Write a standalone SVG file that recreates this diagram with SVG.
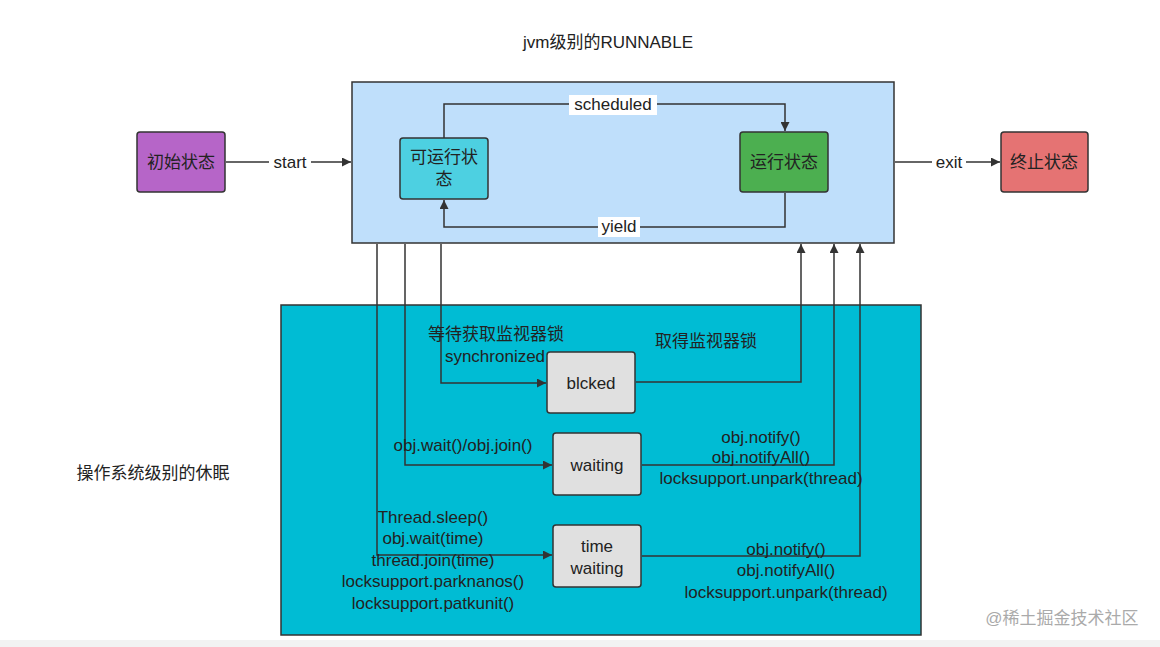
<svg xmlns="http://www.w3.org/2000/svg" width="1160" height="647" viewBox="0 0 1160 647">
<defs>
<marker id="a" viewBox="0 0 10 10" refX="10" refY="5" markerWidth="9" markerHeight="9" orient="auto" markerUnits="userSpaceOnUse"><path d="M0,0 L10,5 L0,10 Z" fill="#333"/></marker>
</defs>
<style>
text{font-family:"Liberation Sans","Noto Sans CJK SC",sans-serif;font-size:17px;fill:#222;text-anchor:middle}
.n{stroke:#333;stroke-width:1.5}
.c{fill:none;stroke:#333;stroke-width:1.5;marker-end:url(#a)}
</style>
<rect width="1160" height="647" fill="#fff"/>
<rect x="0" y="640" width="1160" height="7" fill="#f2f2f2"/>
<text x="608" y="48">jvm级别的RUNNABLE</text>
<text x="153" y="479">操作系统级别的休眠</text>
<g id="jvm"><rect x="352" y="82" width="542" height="161" fill="#bfdffb" class="n"/></g>
<g id="os"><rect x="281" y="305" width="640" height="330" fill="#00bcd4" class="n"/></g>
<g id="connectors">
<path class="c" d="M226,162 H351"/>
<path class="c" d="M895,162 H1000"/>
<path class="c" d="M444,138 V104 H785 V131"/>
<path class="c" d="M785,193 V227 H444 V200"/>
<path class="c" d="M441,244 V383 H546"/>
<path class="c" d="M405,244 V465 H552"/>
<path class="c" d="M377,244 V555 H552"/>
<path class="c" d="M636,382 H801 V244"/>
<path class="c" d="M642,465 H834 V244"/>
<path class="c" d="M642,556 H860 V244"/>
<rect x="269" y="152" width="42" height="20" fill="#fff"/>
<text x="290" y="168">start</text>
<rect x="932" y="152" width="34" height="20" fill="#fff"/>
<text x="949" y="168">exit</text>
<rect x="569" y="95" width="88" height="20" fill="#fff"/>
<text x="613" y="110">scheduled</text>
<rect x="598" y="217" width="42" height="20" fill="#fff"/>
<text x="619" y="232">yield</text>
<text x="496" y="340">等待获取监视器锁</text>
<text x="495" y="362">synchronized</text>
<text x="706" y="347">取得监视器锁</text>
<text x="463" y="451">obj.wait()/obj.join()</text>
<text x="761" y="443">obj.notify()</text>
<text x="761" y="463">obj.notifyAll()</text>
<text x="761" y="484">locksupport.unpark(thread)</text>
<text x="433" y="523">Thread.sleep()</text>
<text x="433" y="544">obj.wait(time)</text>
<text x="433" y="566">thread.join(time)</text>
<text x="433" y="587">locksupport.parknanos()</text>
<text x="433" y="609">locksupport.patkunit()</text>
<text x="786" y="555">obj.notify()</text>
<text x="786" y="576">obj.notifyAll()</text>
<text x="786" y="598">locksupport.unpark(thread)</text>
</g>
<g id="init"><rect x="137" y="132" width="88" height="60" rx="3" fill="#b665c8" class="n"/><text x="181" y="168">初始状态</text></g>
<g id="runnable"><rect x="400" y="138" width="88" height="61" rx="3" fill="#4dd0e1" class="n"/><text x="444" y="163">可运行状</text><text x="444" y="185">态</text></g>
<g id="running"><rect x="740" y="132" width="88" height="60" rx="3" fill="#4caf50" class="n"/><text x="784" y="168">运行状态</text></g>
<g id="term"><rect x="1001" y="132" width="87" height="60" rx="3" fill="#e57373" class="n"/><text x="1044" y="168">终止状态</text></g>
<g id="blocked"><rect x="547" y="352" width="88" height="61" rx="3" fill="#e0e0e0" class="n"/><text x="591" y="389">blcked</text></g>
<g id="waiting"><rect x="553" y="433" width="88" height="62" rx="3" fill="#e0e0e0" class="n"/><text x="597" y="471">waiting</text></g>
<g id="timewaiting"><rect x="553" y="525" width="88" height="62" rx="3" fill="#e0e0e0" class="n"/><text x="597" y="552">time</text><text x="597" y="574">waiting</text></g>
<text x="1062" y="624" style="fill:#aaa;font-size:17px">@稀土掘金技术社区</text>
</svg>
